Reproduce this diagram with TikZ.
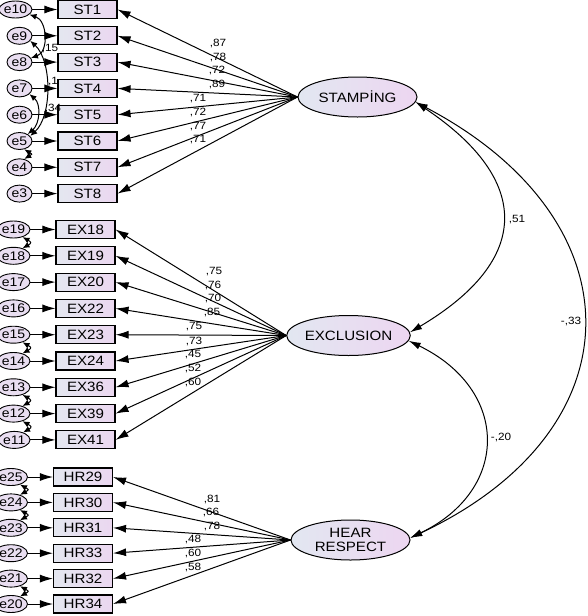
\documentclass[tikz,border=0pt]{standalone}
\usepackage{fontspec}
\setmainfont{Liberation Sans}[FakeStretch=1.12]
\usetikzlibrary{arrows.meta,positioning,shapes.geometric}
\definecolor{boxL}{HTML}{E4E7F0}
\definecolor{boxR}{HTML}{EBD7F0}
\definecolor{errF}{HTML}{E9DEF1}
\definecolor{latL}{HTML}{E2E7F1}
\definecolor{latR}{HTML}{EDD6F1}

\begin{document}
\begin{tikzpicture}[x=1pt,y=-1pt,font=\fontsize{13.5}{15}\selectfont,
  obs/.style={draw,line width=1.1pt,minimum width=59pt,minimum height=18pt,inner sep=0pt,left color=boxL,right color=boxR},
  err/.style={draw,ellipse,line width=0.9pt,minimum width=25pt,minimum height=17pt,inner sep=0pt,fill=errF,
    font=\fontsize{12.5}{14}\selectfont},
  lat/.style={draw,ellipse,line width=1pt,minimum width=119pt,minimum height=40pt,inner sep=0pt,
    left color=latL,right color=latR,align=center,font=\fontsize{13.5}{14}\selectfont},
  load/.style={-{Latex[length=13pt,width=8pt]},line width=1pt},
  res/.style={-{Latex[length=13pt,width=8pt]},line width=1pt},
  cov/.style={{Latex[length=12pt,width=7pt]}-{Latex[length=12pt,width=7pt]},line width=1pt},
  ecov/.style={{Latex[length=7pt,width=6pt]}-{Latex[length=7pt,width=6pt]},line width=1pt},
  coef/.style={font=\fontsize{10.5}{12}\selectfont,inner sep=0pt}]
  \useasboundingbox (0,0) rectangle (588,616);

  % latent factors
  \node[lat] (st) at (357.5,97) {STAMPİNG};
  \node[lat] (ex) at (348.5,335.5) {EXCLUSION};
  \node[lat] (hr) at (350.5,540) {HEAR\\RESPECT};

  % indicators with their errors
  \foreach \i/\e [count=\k from 0] in {1/10,2/9,3/8,4/7,5/6,6/5,7/4,8/3}{
    \node[obs] (ST\i) at (87.5,{9.5+26.3*\k}) {ST\i};
    \node[err,left=25pt of ST\i] (e\e) {e\e};
    \draw[res] (e\e) -- (ST\i);
  }
  \foreach \i/\e [count=\k from 0] in {18/19,19/18,20/17,22/16,23/15,24/14,36/13,39/12,41/11}{
    \node[obs] (EX\i) at (85.5,{229.5+26.3*\k}) {EX\i};
    \node[err,left=25pt of EX\i] (e\e) {e\e};
    \draw[res] (e\e) -- (EX\i);
  }
  \foreach \i/\e [count=\k from 0] in {29/25,30/24,31/23,33/22,32/21,34/20}{
    \node[obs] (HR\i) at (83,{477+25.4*\k}) {HR\i};
    \node[err,left=25pt of HR\i] (e\e) {e\e};
    \draw[res] (e\e) -- (HR\i);
  }

  % loadings
  \foreach \i/\v/\x/\y in {1/{,87}/218/44,2/{,78}/218/57.5,3/{,72}/217/71,4/{,89}/217/84.5,
      5/{,71}/198/99,6/{,72}/198/112.5,7/{,77}/198/127,8/{,71}/198/140}{
    \draw[load] (st.west) -- (ST\i.east);
    \node[coef] (lST\i) at (\x,\y) {\v};
  }
  \foreach \i/\v/\x/\y in {18/{,75}/214/272,19/{,76}/213/285.5,20/{,70}/213/299,22/{,85}/212/313,
      23/{,75}/194/327,24/{,73}/194/341.5,36/{,45}/193/355,39/{,52}/193/369,41/{,60}/193/383}{
    \draw[load] (ex.west) -- (EX\i.east);
    \node[coef] (lEX\i) at (\x,\y) {\v};
  }
  \foreach \i/\v/\x/\y in {29/{,81}/212/499,30/{,66}/211/512.5,31/{,78}/212/526,
      33/{,48}/193/539,32/{,60}/193/553,34/{,58}/193/567}{
    \draw[load] (hr.west) -- (HR\i.east);
    \node[coef] (lHR\i) at (\x,\y) {\v};
  }

  % factor covariances
  \draw[cov] (st.-5) .. controls (532,180) and (532,260) .. (ex.3);
  \draw[cov] (st.-5) .. controls (640,220) and (640,430) .. (hr.2);
  \draw[cov] (ex.-5) .. controls (510,390) and (510,490) .. (hr.2);
  \node[coef] (rSE) at (517,220) {,51};
  \node[coef] (rSH) at (571,322) {-,33};
  \node[coef] (rEH) at (501,438) {-,20};

  % error covariances
  \draw[ecov] (e10.-20) .. controls +(18,6) and +(18,-6) .. (e8.20);
  \draw[ecov] (e9.-25) .. controls +(22,20) and +(22,-20) .. (e5.25);
  \draw[ecov] (e7.-30) .. controls +(12,10) and +(12,-10) .. (e5.40);
  \draw[ecov] (e5.-60) .. controls +(8,5) and +(8,-5) .. (e4.60);
  \draw[ecov] (e19.-40) .. controls +(9,5) and +(9,-5) .. (e18.40);
  \draw[ecov] (e15.-40) .. controls +(9,5) and +(9,-5) .. (e14.40);
  \draw[ecov] (e13.-40) .. controls +(9,5) and +(9,-5) .. (e12.40);
  \draw[ecov] (e12.-40) .. controls +(9,5) and +(9,-5) .. (e11.40);
  \draw[ecov] (e25.-40) .. controls +(9,5) and +(9,-5) .. (e24.40);
  \draw[ecov] (e24.-40) .. controls +(9,5) and +(9,-5) .. (e23.40);
  \draw[ecov] (e21.-40) .. controls +(9,5) and +(9,-5) .. (e20.40);
  \node[coef] (r108) at (50,49) {,15};
  \node[coef] (r95) at (53,82) {,1};
  \node[coef] (r75) at (53,109) {,34};
\end{tikzpicture}
\end{document}
